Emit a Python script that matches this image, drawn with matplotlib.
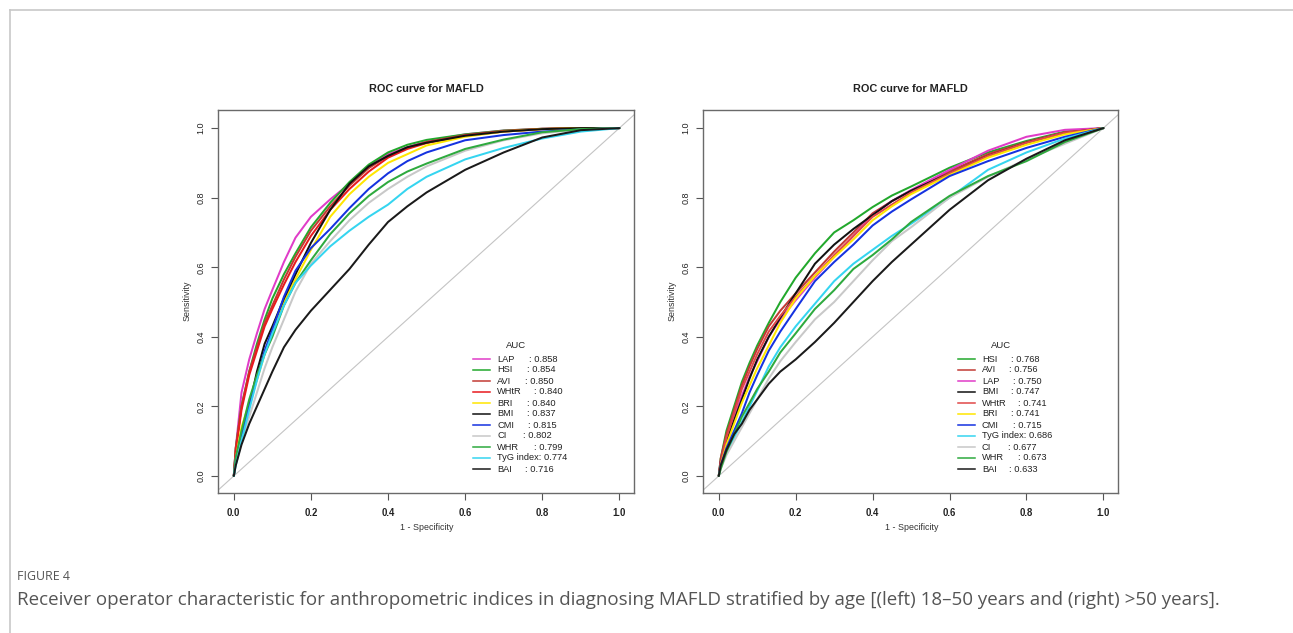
import matplotlib
matplotlib.use('Agg')
import matplotlib.pyplot as plt
from matplotlib.lines import Line2D
from matplotlib import font_manager

# ---------------- data ----------------
fpr = [0, 0.005, 0.02, 0.04, 0.06, 0.08, 0.10, 0.13, 0.16, 0.20, 0.25,
       0.30, 0.35, 0.40, 0.45, 0.50, 0.60, 0.70, 0.80, 0.90, 1.0]

# left panel: 18-50 years
left_names = ["LAP", "HSI", "AVI", "WHtR", "BRI", "BMI", "CMI", "CI", "WHR", "TyG index", "BAI"]
left_auc = ["0.858", "0.854", "0.850", "0.840", "0.840", "0.837", "0.815", "0.802", "0.799", "0.774", "0.716"]
left_LAP = [0, .08, .24, .335, .41, .48, .535, .615, .685, .745, .795, .84, .89, .925, .945, .962, .982, .993, .998, 1, 1]
left_HSI = [0, .08, .20, .30, .38, .45, .51, .58, .64, .715, .785, .845, .895, .93, .952, .966, .982, .993, .998, 1, 1]
left_AVI = [0, .08, .20, .30, .37, .44, .49, .565, .63, .705, .775, .835, .885, .92, .943, .96, .98, .992, .998, 1, 1]
left_WHtR = [0, .07, .19, .29, .36, .43, .48, .55, .615, .69, .765, .825, .875, .915, .94, .957, .978, .99, .997, 1, 1]
left_BRI = [0, .05, .14, .21, .276, .35, .42, .50, .565, .65, .745, .81, .86, .90, .925, .95, .975, .99, .997, 1, 1]
left_BMI = [0, .04, .11, .20, .30, .38, .43, .51, .58, .67, .765, .84, .89, .92, .945, .958, .978, .99, .997, 1, 1]
left_CMI = [0, .05, .12, .20, .28, .36, .42, .515, .59, .655, .71, .77, .825, .87, .905, .93, .965, .98, .99, .996, 1]
left_CI = [0, .04, .10, .17, .24, .31, .37, .45, .53, .61, .675, .735, .785, .825, .86, .89, .935, .965, .985, .996, 1]
left_WHR = [0, .05, .13, .22, .29, .35, .40, .49, .555, .62, .695, .755, .805, .845, .875, .898, .94, .967, .988, .997, 1]
left_TyG = [0, .03, .10, .19, .275, .35, .41, .49, .555, .605, .66, .705, .745, .78, .825, .86, .91, .943, .97, .99, 1]
left_BAI = [0, .03, .09, .15, .20, .25, .30, .37, .42, .475, .535, .595, .665, .73, .775, .815, .88, .93, .973, .994, 1]
left_tpr = [left_LAP, left_HSI, left_AVI, left_WHtR, left_BRI, left_BMI,
            left_CMI, left_CI, left_WHR, left_TyG, left_BAI]

# right panel: >50 years
right_names = ["HSI", "AVI", "LAP", "BMI", "WHtR", "BRI", "CMI", "TyG index", "CI", "WHR", "BAI"]
right_auc = ["0.768", "0.756", "0.750", "0.747", "0.741", "0.741", "0.715", "0.686", "0.677", "0.673", "0.633"]
right_HSI = [0, .05, .13, .20, .27, .325, .375, .44, .50, .57, .64, .70, .735, .773, .806, .832, .886, .93, .963, .99, 1]
right_AVI = [0, .05, .12, .19, .26, .315, .365, .43, .475, .525, .585, .645, .70, .755, .79, .82, .876, .925, .96, .988, 1]
right_LAP = [0, .04, .10, .17, .23, .285, .33, .40, .45, .505, .57, .63, .69, .75, .79, .822, .88, .935, .975, .995, 1]
right_BMI = [0, .04, .10, .16, .22, .28, .335, .40, .455, .525, .61, .665, .71, .75, .79, .82, .87, .92, .958, .986, 1]
right_WHtR = [0, .04, .11, .18, .25, .30, .35, .415, .46, .515, .575, .635, .69, .745, .78, .815, .87, .92, .958, .987, 1]
right_BRI = [0, .03, .09, .15, .21, .26, .31, .375, .44, .51, .575, .629, .68, .735, .775, .81, .865, .915, .952, .982, 1]
right_CMI = [0, .03, .08, .13, .18, .24, .29, .36, .415, .48, .56, .615, .665, .72, .76, .795, .862, .905, .943, .975, 1]
right_TyG = [0, .025, .065, .11, .155, .20, .245, .315, .37, .43, .495, .56, .61, .65, .69, .725, .80, .88, .93, .97, 1]
right_CI = [0, .02, .06, .10, .14, .18, .22, .28, .33, .385, .45, .50, .56, .62, .675, .715, .80, .86, .91, .955, 1]
right_WHR = [0, .02, .07, .12, .17, .21, .25, .30, .355, .41, .48, .534, .595, .635, .68, .73, .805, .862, .905, .96, 1]
right_BAI = [0, .03, .075, .12, .15, .19, .22, .265, .30, .335, .385, .44, .50, .56, .615, .665, .765, .85, .912, .965, 1]
right_tpr = [right_HSI, right_AVI, right_LAP, right_BMI, right_WHtR, right_BRI,
             right_CMI, right_TyG, right_CI, right_WHR, right_BAI]

ticks = [0.0, 0.2, 0.4, 0.6, 0.8, 1.0]
tick_labels = ["0.0", "0.2", "0.4", "0.6", "0.8", "1.0"]
title_text = "ROC curve for MAFLD"
fig_label = "FIGURE 4"
caption = ("Receiver operator characteristic for anthropometric indices in diagnosing MAFLD "
           "stratified by age [(left) 18\u201350 years and (right) >50 years].")

# ---------------- styles ----------------
colors = {
    "LAP": "#E03CC8", "HSI": "#22A82C", "AVI": "#C23A34", "WHtR": "#E81A1E",
    "BRI": "#FFE600", "BMI": "#111111", "CMI": "#1532E0", "CI": "#C8C8C8",
    "WHR": "#2EAA3E", "TyG index": "#35D5F0", "BAI": "#1A1A1A",
}
right_colors = dict(colors)
right_colors["WHtR"] = "#E04848"

W, H = 1293, 633
fig = plt.figure(figsize=(W / 100, H / 100), dpi=100)
fig.patch.set_facecolor("white")

avail = {f.name for f in font_manager.fontManager.ttflist}
base_font = "Liberation Sans" if "Liberation Sans" in avail else "DejaVu Sans"
cap_font = "Liberation Sans Narrow" if "Liberation Sans Narrow" in avail else (
    "Open Sans" if "Open Sans" in avail else base_font)
plt.rcParams["font.family"] = [base_font, "DejaVu Sans"]


def fx(px):
    return px / W


def fy(py):
    return 1 - py / H


# figure frame (light grey)
fig.add_artist(Line2D([fx(10), 1], [fy(10), fy(10)], transform=fig.transFigure,
                      color="#C8C8C8", lw=1.2))
fig.add_artist(Line2D([fx(10), fx(10)], [fy(10), 0], transform=fig.transFigure,
                      color="#C8C8C8", lw=1.2))


def panel(left, right, names, aucs, tprs, cols, colon_x):
    top, bottom = 110, 493
    ax = fig.add_axes([fx(left), fy(bottom), (right - left) / W, (bottom - top) / H])
    ax.set_xlim(-0.041, 1.038)
    ax.set_ylim(-0.049, 1.052)
    ax.axline((0, 0), slope=1, color="#C4C4C4", lw=0.8, zorder=1)
    for name, tpr in zip(names, tprs):
        ax.plot(fpr, tpr, color=cols[name], lw=1.45, solid_joinstyle="round",
                solid_capstyle="round", zorder=2)
    for s in ax.spines.values():
        s.set_color("#6A6A6A")
        s.set_linewidth(1.0)
    ax.set_xticks(ticks)
    ax.set_xticklabels(tick_labels, fontsize=6.9, fontweight="bold", color="#222222")
    ax.set_yticks(ticks)
    ax.set_yticklabels(tick_labels, fontsize=6.5, rotation=90, va="center", color="#222222")
    ax.tick_params(axis="x", direction="out", length=5, width=0.8, colors="#555555",
                   labelcolor="#222222", pad=6)
    ax.tick_params(axis="y", direction="out", length=5, width=0.8, colors="#555555",
                   labelcolor="#222222", pad=4)
    cx = (left + right) / 2
    fig.text(fx(cx), fy(89), title_text, ha="center", va="center",
             fontsize=7.8, fontweight="bold", color="#222222")
    fig.text(fx(cx + 1), fy(528), "1 - Specificity", ha="center", va="center",
             fontsize=6.4, color="#333333")
    fig.text(fx(left - 31), fy(301), "Sensitivity", ha="center", va="center",
             rotation=90, fontsize=6.4, color="#333333")
    # legend
    lx0 = left + 255
    fig.text(fx(lx0 + 43), fy(346), "AUC", ha="center", va="center",
             fontsize=6.8, color="#222222")
    for i, (name, auc) in enumerate(zip(names, aucs)):
        y = 359 + 11 * i
        fig.add_artist(Line2D([fx(lx0), fx(lx0 + 17)], [fy(y), fy(y)],
                              transform=fig.transFigure, color=cols[name], lw=1.1))
        if name == "TyG index":
            fig.text(fx(lx0 + 24), fy(y), name + ": " + auc, ha="left", va="center",
                     fontsize=6.7, color="#222222")
        else:
            fig.text(fx(lx0 + 24), fy(y), name, ha="left", va="center",
                     fontsize=6.7, color="#222222")
            fig.text(fx(colon_x[i]), fy(y), ": " + auc, ha="left", va="center",
                     fontsize=6.7, color="#222222")
    return ax


panel(218, 634, left_names, left_auc, left_tpr, colors,
      [529, 527, 525, 534, 527, 527, 528, 523, 534, 0, 525])
panel(703, 1118, right_names, right_auc, right_tpr, right_colors,
      [1011, 1009, 1013, 1011, 1018, 1011, 1013, 0, 1008, 1018, 1009])

# caption
t1 = fig.text(fx(17), fy(577), fig_label, ha="left", va="center",
              fontsize=9, color="#555555", family=[cap_font, "DejaVu Sans"])
t2 = fig.text(fx(17), fy(600), caption, ha="left", va="center",
              fontsize=12, color="#555555", family=[cap_font, "DejaVu Sans"])
fig.canvas.draw()
r = fig.canvas.get_renderer()
for t, target in ((t1, 53), (t2, 1195)):
    w = t.get_window_extent(renderer=r).width
    t.set_fontsize(t.get_fontsize() * target / w)

fig.savefig("out.png", dpi=100, facecolor="white")
